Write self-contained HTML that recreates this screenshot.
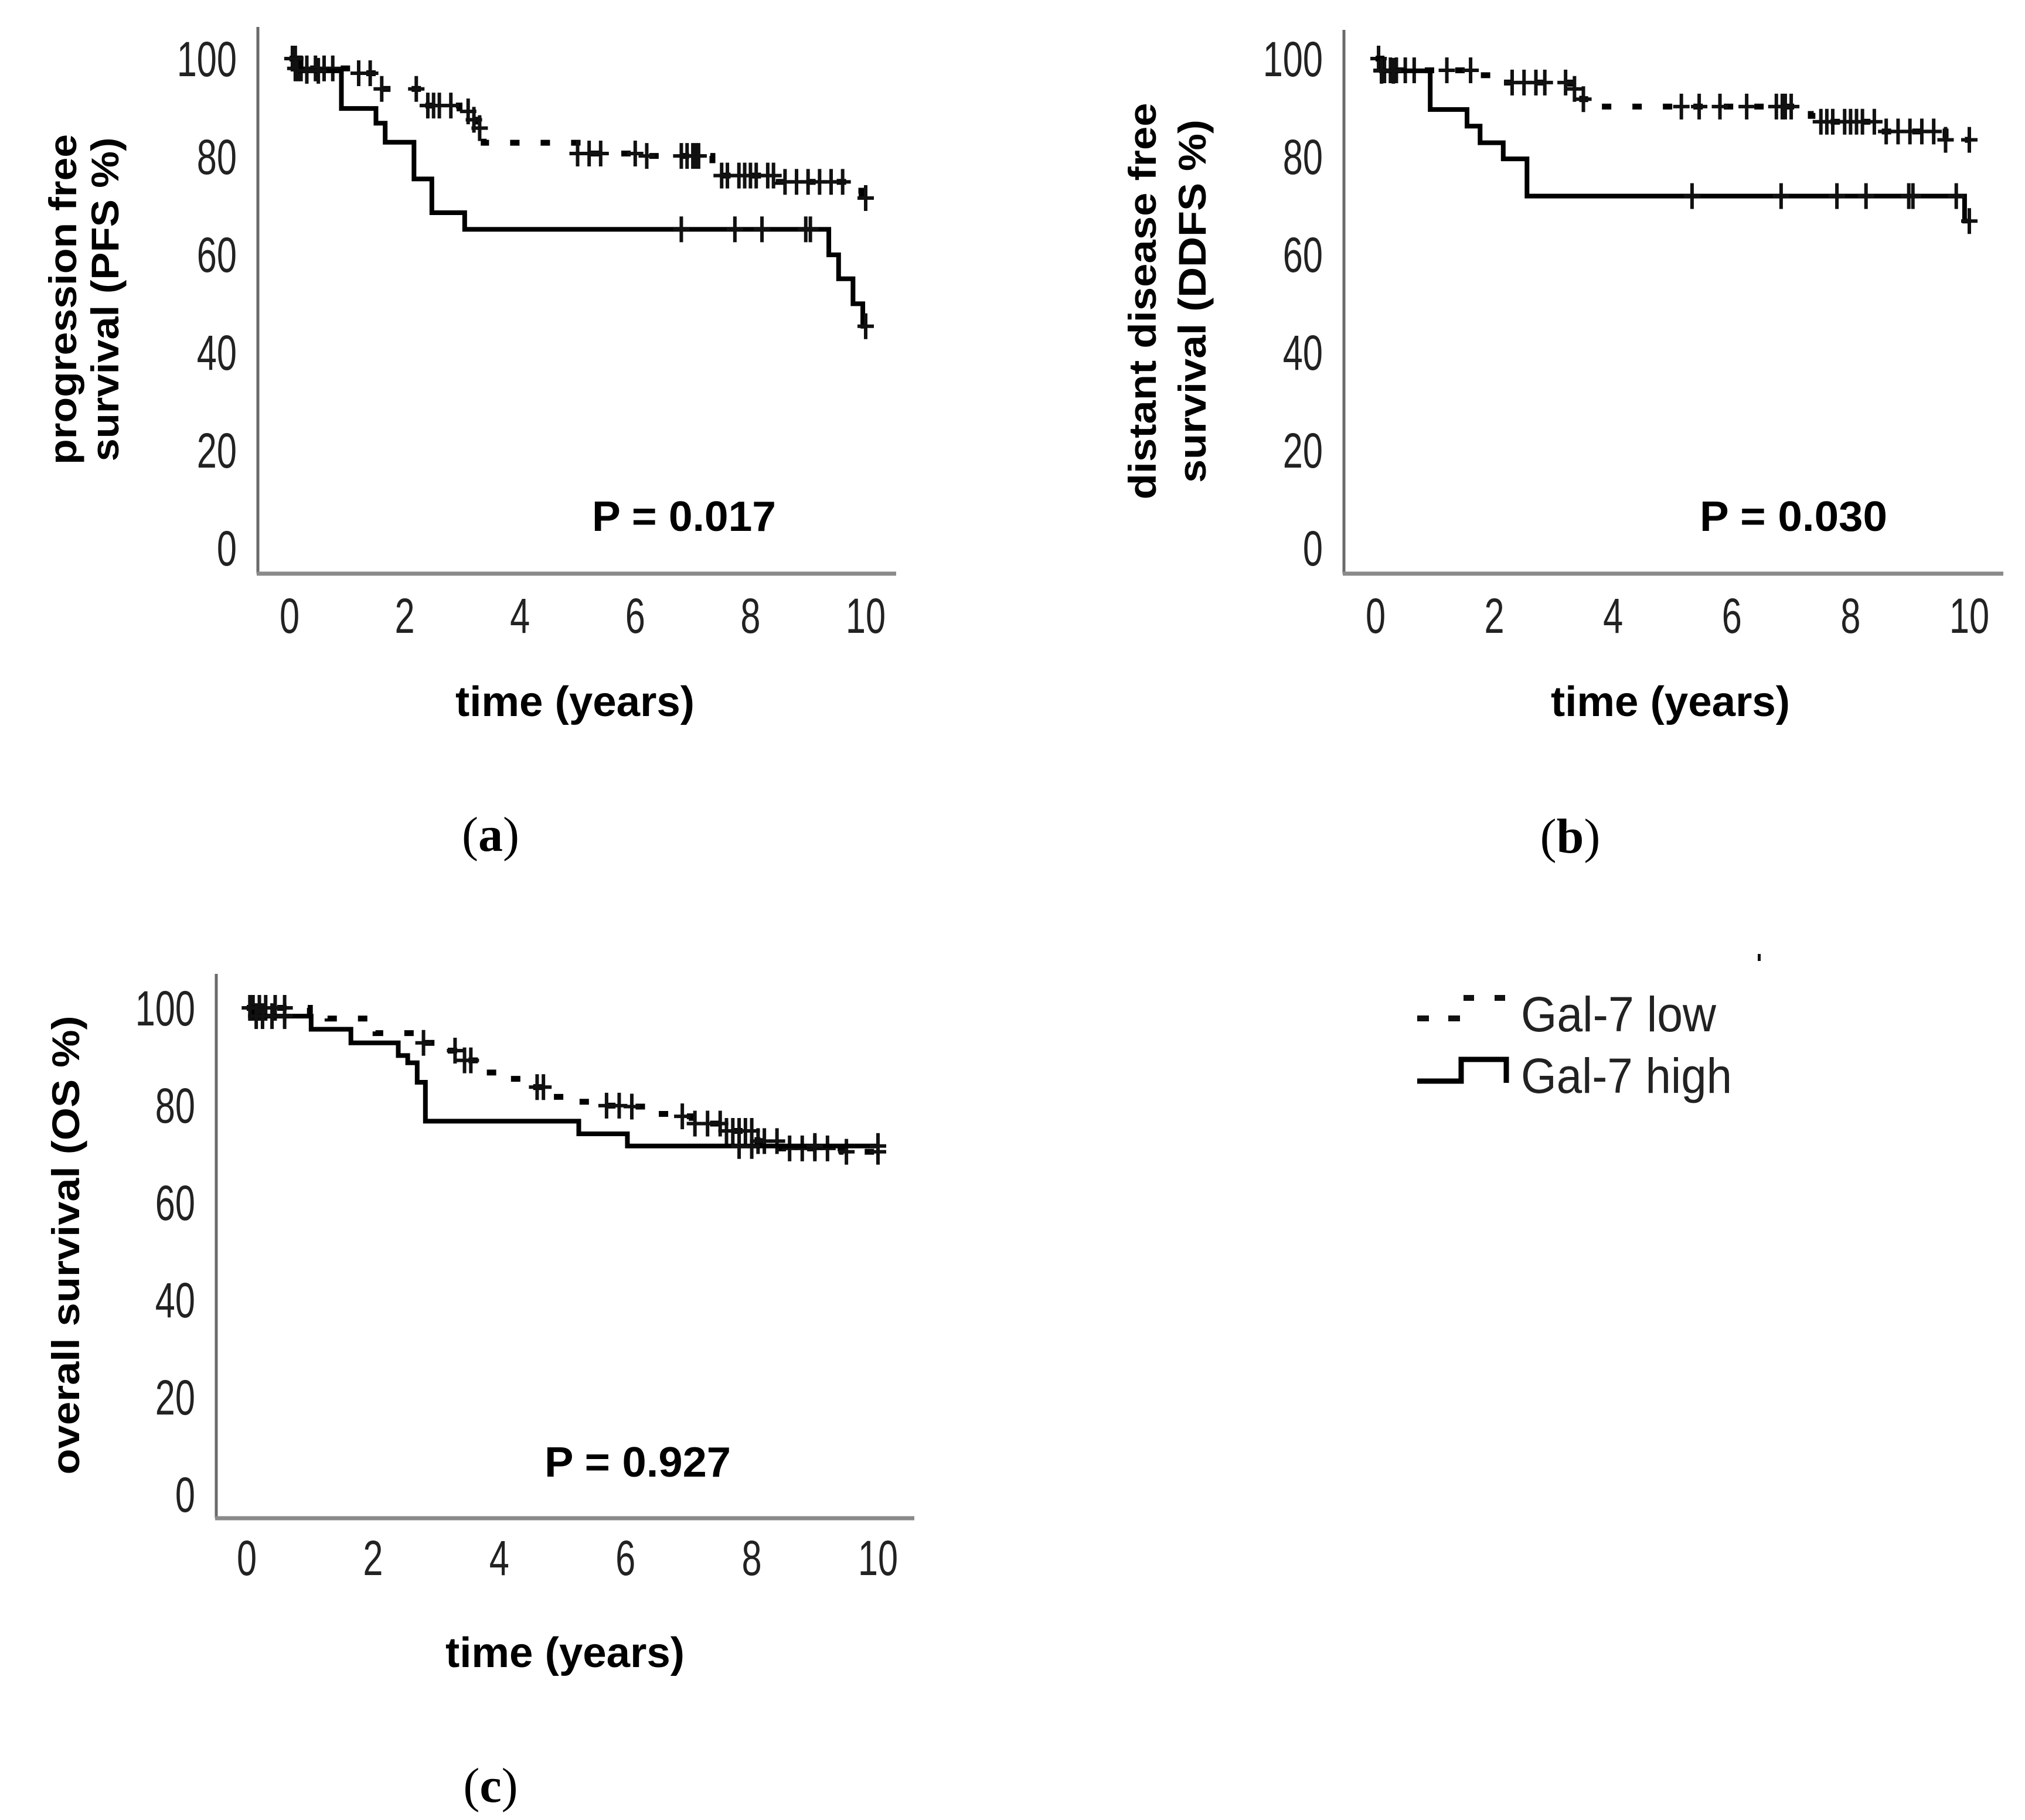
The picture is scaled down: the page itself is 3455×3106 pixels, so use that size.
<!DOCTYPE html>
<html><head><meta charset="utf-8"><style>
html,body{margin:0;padding:0;background:#fff}
svg{display:block}
.tk{font-family:"Liberation Sans",sans-serif;font-size:84px;fill:#222}
.tt{font-family:"Liberation Sans",sans-serif;font-weight:bold;fill:#000}
.sl{font-family:"Liberation Serif",serif;font-size:84px;fill:#000}
</style></head><body>
<svg id="fig" width="3455" height="3106" viewBox="0 0 3455 3106" xmlns="http://www.w3.org/2000/svg">
<g id="pa"></g>
<g id="pb"></g>
<g id="pc"></g>
<g>
  <g>
    <rect x="2418" y="1733" width="20" height="10" fill="#111"/>
    <rect x="2471" y="1733" width="20" height="10" fill="#111"/>
    <rect x="2497" y="1698" width="18" height="10" fill="#111"/>
    <rect x="2550" y="1698" width="18" height="10" fill="#111"/>
    <text x="2595" y="1760" class="tk" font-size="88" textLength="333" lengthAdjust="spacingAndGlyphs">Gal-7 low</text>
  </g>
  <g>
    <polyline points="2418,1845 2493,1845 2493,1808 2570,1808 2570,1848" fill="none" stroke="#000" stroke-width="9"/>
    <text x="2595" y="1865" class="tk" font-size="88" textLength="360" lengthAdjust="spacingAndGlyphs">Gal-7 high</text>
  </g>
  <rect x="2999" y="1628" width="5" height="12" fill="#111"/>
</g>
<text x="837" y="1452" class="sl" text-anchor="middle">(<tspan font-weight="bold">a</tspan>)</text>
<text x="2679" y="1455" class="sl" text-anchor="middle">(<tspan font-weight="bold">b</tspan>)</text>
<text x="837" y="3075" class="sl" text-anchor="middle">(<tspan font-weight="bold">c</tspan>)</text>
</svg>
<script>
// ---- data (time in years, survival %) ----
const xTicks = [0,2,4,6,8,10];
const yTicks = [0,20,40,60,80,100];
const aHighT = [0,0.2,0.9,1.5,1.66,2.16,2.47,3.04,9.36,9.53,9.78,9.95];
const aHighS = [100,97.5,89.8,86.8,82.9,75.4,68.5,65.1,59.9,55,49.9,45.3];
const aHighC = [0.1,0.3,0.5,6.8,7.73,8.2,8.96,9.04,10];
const aLowT = [0,0.1,1.2,1.5,2.33,2.95,3.15,3.25,3.37,5.0,6.04,7.34,7.45,8.44,9.8,9.93];
const aLowS = [100,98,97,93.8,90.4,89.2,87.5,85.8,82.8,80.6,80.1,78.2,76.1,74.8,73,71.5];
const aLowC = [0.05,0.1,0.15,0.2,0.3,0.45,0.6,0.75,1.2,1.4,1.6,2.2,2.4,2.5,2.6,2.8,3.1,3.2,3.3,5.0,5.2,5.4,6.0,6.2,6.8,6.9,7.0,7.05,7.1,7.5,7.6,7.8,7.9,8.0,8.1,8.3,8.4,8.6,8.8,9.0,9.2,9.4,9.6,10];
const bHighT = [0,0.1,0.92,1.54,1.76,2.15,2.55,9.92];
const bHighS = [100,97.5,89.6,86.2,82.8,79.5,71.9,66.8];
const bHighC = [0.1,0.3,5.33,6.83,7.77,8.26,8.98,9.05,9.78,10];
const bLowT = [0,0.1,1.7,2.1,3.28,3.48,3.63,7.33,7.48,8.42,9.6];
const bLowS = [100,97.6,96.6,95.1,93.8,91.7,90.2,88.3,87.1,85.1,83.4];
const bLowC = [0.05,0.1,0.15,0.25,0.35,0.5,0.65,1.2,1.6,2.3,2.5,2.7,2.85,3.2,3.35,3.5,5.15,5.45,5.8,6.25,6.75,6.85,6.9,7.0,7.5,7.6,7.7,7.9,8.0,8.1,8.2,8.4,8.6,8.8,9.0,9.2,9.4,9.6,10];
const cHighT = [0,0.1,1.02,1.65,2.4,2.55,2.7,2.83,5.26,6.03];
const cHighS = [100,98.3,95.6,92.8,90.2,88.7,84.7,76.7,74.1,71.6];
const cHighC = [0.05,0.15,0.25,0.4,0.6,7.8,8.0,9.0,10];
const cLowT = [0,1.0,1.28,2.04,2.76,3.14,3.42,3.71,4.14,4.47,4.76,5.14,5.62,6.0,6.33,6.85,7.05,7.52,8.09,8.47,9.43];
const cLowS = [100,98.8,97.8,94.8,92.8,91.2,89.2,86.7,85.4,83.7,81.7,80.7,79.9,79.7,78.2,77.7,76.2,74.7,72.6,71.1,70.4];
const cLowC = [0.05,0.1,0.2,0.3,0.45,0.6,2.8,3.3,3.45,3.55,4.6,4.7,5.7,5.9,6.1,6.9,7.1,7.3,7.5,7.6,7.7,7.8,7.9,8.0,8.1,8.2,8.4,8.6,8.8,9.0,9.2,9.5,10];
const pValues = ["P = 0.017","P = 0.030","P = 0.927"];

const NS='http://www.w3.org/2000/svg';
function mk(parent,tag,attrs){const e=document.createElementNS(NS,tag);for(const k in attrs)e.setAttribute(k,attrs[k]);parent.appendChild(e);return e;}
function survAt(T,S,t){let v=S[0];for(let i=0;i<T.length;i++){if(T[i]<=t)v=S[i];}return v;}

function panel(g,L,high,low,pText,titleLines){
  const X=t=>L.x0+L.px*t, Y=v=>L.y0-L.py*v;
  const ya=mk(g,'line',{x1:L.ax,y1:L.top,x2:L.ax,y2:L.xa,stroke:'#6a6a6a','stroke-width':5});
  
  
  const xa=mk(g,'line',{x1:L.ax-2,y1:L.xa,x2:L.right,y2:L.xa,stroke:'#8a8a8a','stroke-width':7});
  
  
  yTicks.forEach(v=>{
    const t=mk(g,'text',{class:'tk','text-anchor':'end',transform:`translate(${L.ax-36},${Y(v)+30}) scale(0.73,1)`});
    t.textContent=v;
    
    
  });
  xTicks.forEach(v=>{
    const t=mk(g,'text',{class:'tk','text-anchor':'middle',transform:`translate(${X(v)},${L.xl}) scale(0.73,1)`});
    t.textContent=v;
    
    
  });
  function curve(T,S,C,dashed,name){
    let d=`M${X(T[0])},${Y(S[0])}`;
    for(let i=1;i<T.length;i++){d+=` H${X(T[i])} V${Y(S[i])}`;}
    d+=` H${X(10)}`;
    const p=mk(g,'path',{d:d,fill:'none',stroke:'#000','stroke-width':dashed?10:8,'stroke-dasharray':dashed?'16 36':'none'});
    
    
    C.forEach(c=>{
      const x=X(c),y=Y(survAt(T,S,c));
      const m=mk(g,'path',{d:`M${x},${y-22} V${y+22} M${x-14},${y} H${x+14}`,stroke:'#111','stroke-width':6});
      
      
    });
  }
  curve(low[0],low[1],low[2],true,'gal7-low');
  curve(high[0],high[1],high[2],false,'gal7-high');
  const pt=mk(g,'text',{class:'tt',x:L.px0,y:L.py0,'font-size':72,textLength:L.pw,lengthAdjust:'spacingAndGlyphs'});
  pt.textContent=pText;
  
  
  const xt=mk(g,'text',{class:'tt',x:L.xtx,y:L.xty,'font-size':72,'text-anchor':'middle',textLength:408,lengthAdjust:'spacingAndGlyphs'});
  xt.textContent='time (years)';
  
  
  titleLines.forEach((ln,i)=>{
    const t=mk(g,'text',{class:'tt','font-size':66,'text-anchor':'middle',transform:`translate(${ln.x},${L.tc}) rotate(-90)`,textLength:ln.len,lengthAdjust:'spacingAndGlyphs'});
    t.textContent=ln.s;
    
    
  });
}
panel(document.getElementById('pa'),
 {x0:494,px:98.3,y0:935,py:8.35,ax:440,top:46,xa:979,right:1529,xl:1080,px0:1010,py0:906,pw:314,xtx:981,xty:1222,tc:511},
 [aHighT,aHighS,aHighC],[aLowT,aLowS,aLowC],pValues[0],
 [{s:'progression free',x:130,len:564},{s:'survival (PFS %)',x:202,len:553}]);
panel(document.getElementById('pb'),
 {x0:2347,px:101.3,y0:935,py:8.35,ax:2293,top:51,xa:979,right:3418,xl:1080,px0:2900,py0:906,pw:320,xtx:2850,xty:1222,tc:514},
 [bHighT,bHighS,bHighC],[bLowT,bLowS,bLowC],pValues[1],
 [{s:'distant disease free',x:1972,len:677},{s:'survival (DDFS %)',x:2057,len:620}]);
panel(document.getElementById('pc'),
 {x0:421,px:107.7,y0:2550,py:8.3,ax:369,top:1662,xa:2591,right:1560,xl:2688,px0:929,py0:2520,pw:318,xtx:964,xty:2845,tc:2125},
 [cHighT,cHighS,cHighC],[cLowT,cLowS,cLowC],pValues[2],
 [{s:'overall survival (OS %)',x:135,len:783}]);
</script>
</body></html>
